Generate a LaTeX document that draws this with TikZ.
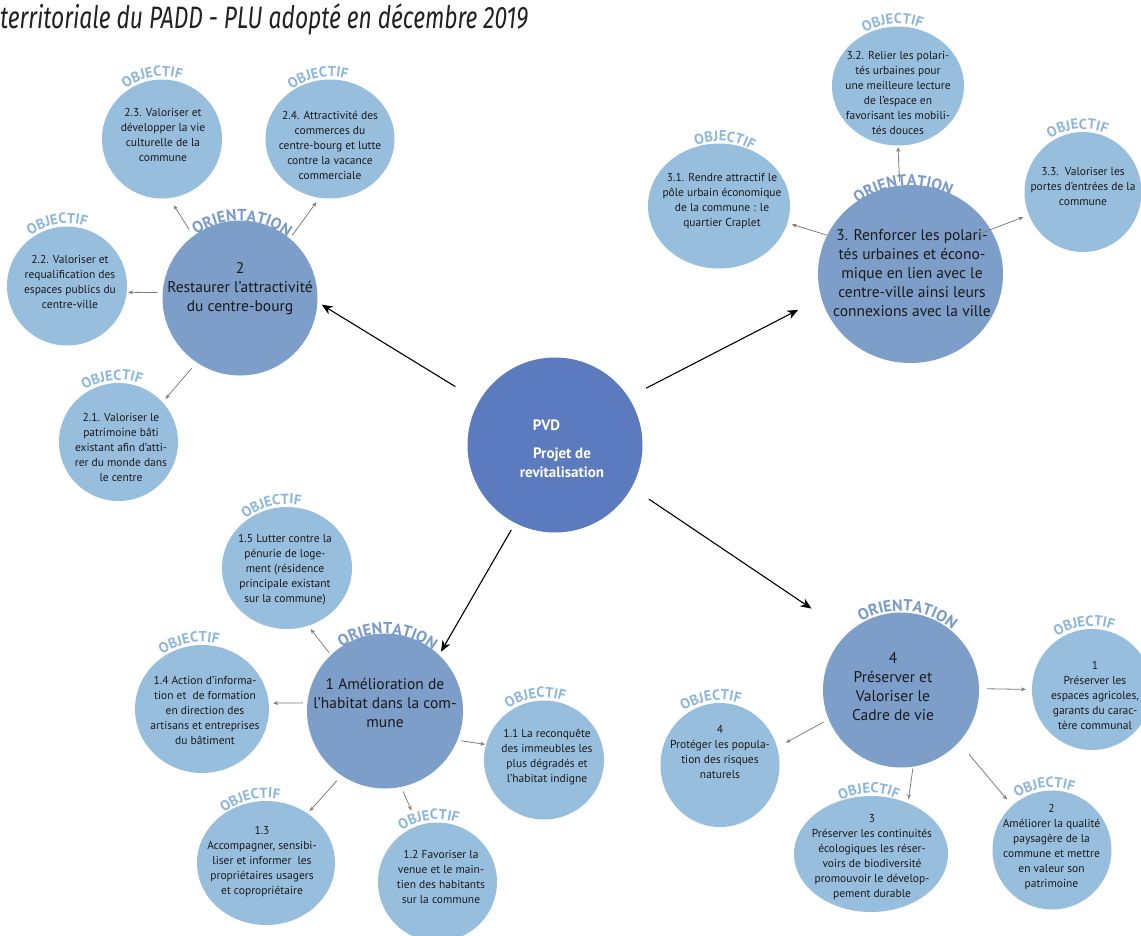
\documentclass[tikz,border=0pt]{standalone}
\usepackage{graphicx}
\usepackage{fontspec}
\setmainfont{PT Sans}
\newfontfamily\titlefont{Fira Sans}
\usetikzlibrary{shapes.geometric,arrows.meta,decorations.text,calc}
\definecolor{objfill}{HTML}{98BEDE}
\definecolor{orifill}{HTML}{7C9EC8}
\definecolor{pvdfill}{HTML}{5C7ABE}
\definecolor{objlab}{HTML}{8DB6DD}
\definecolor{orilab}{HTML}{789BCB}
\definecolor{txtcol}{HTML}{1A1A1A}
\definecolor{arrgray}{HTML}{7F7F7F}
\definecolor{titlecol}{HTML}{222222}
\newcommand\objlabfont{\color{objlab}\bfseries\fontsize{14.5}{14.5}\selectfont}
\newcommand\orilabfont{\color{orilab}\bfseries\fontsize{16}{16}\selectfont}
% #1 node, #2 angle, #3 radius, #4 half span, #5 text
\newcommand\arclabel[5]{%
  \path[decorate,decoration={text along path,text={#5},text align=center}]
    ($(#1.center)+({#2+#4}:#3)$) arc[start angle={#2+#4},end angle={#2-#4},radius=#3];}
\tikzset{
  objc/.style={ellipse,fill=objfill,inner sep=0pt,outer sep=0pt},
  oric/.style={ellipse,fill=orifill,inner sep=0pt,outer sep=0pt},
  pvdc/.style={circle,fill=pvdfill,inner sep=0pt,outer sep=0pt},
  objt/.style={align=center,font=\fontsize{11.5}{15}\selectfont,text=txtcol,inner sep=0pt},
  orit/.style={align=center,font=\fontsize{15.5}{19}\selectfont,text=txtcol,inner sep=0pt},
  pvdt/.style={align=center,font=\bfseries\fontsize{15}{19}\selectfont,text=white,inner sep=0pt},
  subarr/.style={-{Stealth[length=5pt,width=4pt]},draw=arrgray,line width=0.8pt},
  mainarr/.style={-{Stealth[length=11pt,width=9pt]},draw=black,line width=1.1pt},
}
\begin{document}
\begin{tikzpicture}[x=1pt,y=1pt]
\useasboundingbox (0,0) rectangle (1141,-935);
\fill[white] (0,0) rectangle (1141,-935);

\node[anchor=base west,inner sep=0pt,text=titlecol] (title) at (0,-28)
  {\titlefont\itshape\resizebox{528pt}{\height}{\fontsize{31}{31}\selectfont territoriale du PADD - PLU adopté en décembre 2019}};

% central
\node[pvdc,minimum size=175pt] (pvd) at (555,-445) {};
% orientations
\node[oric,minimum width=155pt,minimum height=155pt] (o2) at (240,-298) {};
\node[oric,minimum width=185pt,minimum height=178pt] (o3) at (910.5,-274) {};
\node[oric,minimum width=156pt,minimum height=155pt] (o1) at (385,-711) {};
\node[oric,minimum width=156pt,minimum height=155pt] (o4) at (901,-690) {};
% objectives
\node[objc,minimum width=120pt,minimum height=119pt] (ob23) at (162,-139) {};
\node[objc,minimum width=129pt,minimum height=119pt] (ob24) at (330,-139) {};
\node[objc,minimum width=120pt,minimum height=119pt] (ob22) at (67,-286) {};
\node[objc,minimum width=119pt,minimum height=118pt] (ob21) at (118.5,-442) {};
\node[objc,minimum width=132pt,minimum height=119pt] (ob32) at (898,-86) {};
\node[objc,minimum width=142pt,minimum height=125pt] (ob31) at (719,-206) {};
\node[objc,minimum width=117pt,minimum height=120pt] (ob33) at (1083,-192) {};
\node[objc,minimum width=130pt,minimum height=122pt] (ob15) at (287,-568) {};
\node[objc,minimum width=134pt,minimum height=128pt] (ob14) at (202,-709) {};
\node[objc,minimum width=120pt,minimum height=119pt] (ob11) at (544,-760) {};
\node[objc,minimum width=138pt,minimum height=124pt] (ob13) at (266,-863) {};
\node[objc,minimum width=119pt,minimum height=119pt] (ob12) at (437.5,-882) {};
\node[objc,minimum width=120pt,minimum height=121pt] (ob41) at (1092,-689.5) {};
\node[objc,minimum width=119pt,minimum height=124pt] (ob44) at (720,-765) {};
\node[objc,minimum width=154pt,minimum height=116pt] (ob43) at (871,-854) {};
\node[objc,minimum width=119pt,minimum height=119pt] (ob42) at (1052,-850) {};

% arc labels
\arclabel{ob23}{99}{62.5}{45}{|\objlabfont|OBJECTIF}
\arclabel{ob24}{101}{62.5}{45}{|\objlabfont|OBJECTIF}
\arclabel{ob22}{99}{62.5}{45}{|\objlabfont|OBJECTIF}
\arclabel{ob21}{96}{62}{45}{|\objlabfont|OBJECTIF}
\arclabel{ob32}{95}{62.5}{45}{|\objlabfont|OBJECTIF}
\arclabel{ob31}{85}{65}{45}{|\objlabfont|OBJECTIF}
\arclabel{ob33}{95}{63}{45}{|\objlabfont|OBJECTIF}
\arclabel{ob15}{104}{64}{45}{|\objlabfont|OBJECTIF}
\arclabel{ob14}{101}{67}{45}{|\objlabfont|OBJECTIF}
\arclabel{ob11}{98}{62.5}{45}{|\objlabfont|OBJECTIF}
\arclabel{ob13}{104}{65}{45}{|\objlabfont|OBJECTIF}
\arclabel{ob12}{98}{62.5}{45}{|\objlabfont|OBJECTIF}
\arclabel{ob41}{97}{63.5}{45}{|\objlabfont|OBJECTIF}
\arclabel{ob44}{98}{65}{45}{|\objlabfont|OBJECTIF}
\arclabel{ob43}{92}{61}{45}{|\objlabfont|OBJECTIF}
\arclabel{ob42}{97}{62.5}{45}{|\objlabfont|OBJECTIF}
\arclabel{o2}{88.5}{77}{60}{|\orilabfont|ORIENTATION}
\arclabel{o3}{95}{88}{55}{|\orilabfont|ORIENTATION}
\arclabel{o1}{88}{77}{60}{|\orilabfont|ORIENTATION}
\arclabel{o4}{85}{79}{60}{|\orilabfont|ORIENTATION}

% texts
\node[pvdt] (tpvd) at (562,-448.5) {\hspace*{-31pt}PVD\\[9pt]Projet de\\revitalisation};
\node[orit] (to2) at (240,-289) {2\\Restaurer l’attractivité\\du centre-bourg};
\node[orit] (to3) at (912,-273) {3. Renforcer les polari-\\tés urbaines et écono-\\mique en lien avec le\\centre-ville ainsi leurs\\connexions avec la ville};
\node[orit] (to1) at (385,-703) {1 Amélioration de\\l’habitat dans la com-\\mune};
\node[orit] (to4) at (893,-687) {4\\Préserver et\\Valoriser le\\Cadre de vie};

\node[objt] (t23) at (163,-134.5) {2.3. Valoriser et\\développer la vie\\culturelle de la\\commune};
\node[objt] (t24) at (330,-145) {2.4. Attractivité des\\commerces du\\centre-bourg et lutte\\contre la vacance\\commerciale};
\node[objt] (t22) at (70,-282) {2.2. Valoriser et\\requalification des\\espaces publics du\\centre-ville};
\node[objt] (t21) at (121,-447) {2.1. Valoriser le\\patrimoine bâti\\existant afin d’atti-\\rer du monde dans\\le centre};
\node[objt] (t32) at (898,-93) {3.2. Relier les polari-\\tés urbaines pour\\une meilleure lecture\\de l’espace en\\favorisant les mobili-\\tés douces};
\node[objt] (t31) at (722,-201.5) {3.1. Rendre attractif le\\pôle urbain économique\\de la commune : le\\quartier Craplet};
\node[objt] (t33) at (1083,-186) {3.3.\ \ Valoriser les\\portes d’entrées de la\\commune};
\node[objt] (t15) at (285,-570) {1.5 Lutter contre la\\pénurie de loge-\\ment (résidence\\principale existant\\sur la commune)};
\node[objt] (t14) at (205,-710) {1.4 Action d’informa-\\tion et\ \ de formation\\en direction des\\artisans et entreprises\\du bâtiment};
\node[objt] (t11) at (547,-757) {1.1 La reconquête\\des immeubles les\\plus dégradés et\\l’habitat indigne};
\node[objt] (t13) at (262,-862) {1.3\\Accompagner, sensibi-\\liser et informer\ \ les\\propriétaires usagers\\et copropriétaire};
\node[objt] (t12) at (441,-877) {1.2 Favoriser la\\venue et le main-\\tien des habitants\\sur la commune};
\node[objt] (t41) at (1095,-695.5) {1\\Préserver les\\espaces agricoles,\\garants du carac-\\tère communal};
\node[objt] (t44) at (720,-752) {4\\Protéger les popula-\\tion des risques\\naturels};
\node[objt] (t43) at (872,-857) {3\\Préserver les continuités\\écologiques les réser-\\voirs de biodiversité\\promouvoir le dévelop-\\pement durable};
\node[objt] (t42) at (1051.5,-847) {2\\Améliorer la qualité\\paysagère de la\\commune et mettre\\en valeur son\\patrimoine};

% main arrows
\draw[mainarr,shorten <=28pt,shorten >=5pt] (pvd.150) -- (o2.-3);
\draw[mainarr,shorten <=20pt,shorten >=26pt] (pvd.33) -- (o3.-165);
\draw[mainarr,shorten <=8pt,shorten >=4pt] (pvd.-117) -- (o1.46);
\draw[mainarr,shorten <=21pt,shorten >=44pt] (pvd.-29) -- (o4.133);

% secondary arrows
\draw[subarr,shorten <=8pt,shorten >=8.5pt] (o2.127) -- (ob23.-83);
\draw[subarr,shorten <=4pt,shorten >=5.5pt] (o2.50) -- (ob24.-100);
\draw[subarr,shorten <=5pt,shorten >=1.5pt] (o2.176) -- (ob22.-6);
\draw[subarr,shorten <=7.5pt,shorten >=4.5pt] (o2.-124) -- (ob21.42);
\draw[subarr,shorten <=4pt,shorten >=1.5pt] (o3.97) -- (ob32.-90);
\draw[subarr,shorten <=0pt,shorten >=4.7pt] (o3.155) -- (ob31.-14);
\draw[subarr,shorten <=-14pt,shorten >=6pt] (o3.29) -- (ob33.-157);
\draw[subarr,shorten <=3pt,shorten >=4pt] (o1.134) -- (ob15.-70);
\draw[subarr,shorten <=4.5pt,shorten >=4.3pt] (o1.174) -- (ob14.5);
\draw[subarr,shorten <=3.7pt,shorten >=1pt] (o1.-22) -- (ob11.165);
\draw[subarr,shorten <=7pt,shorten >=3pt] (o1.-124) -- (ob13.50);
\draw[subarr,shorten <=5pt,shorten >=16.5pt] (o1.-78) -- (ob12.109);
\draw[subarr,shorten <=8pt,shorten >=6pt] (o4.1) -- (ob41.180);
\draw[subarr,shorten <=6pt,shorten >=10pt] (o4.-158) -- (ob44.17);
\draw[subarr,shorten <=2pt,shorten >=4pt] (o4.-81) -- (ob43.54);
\draw[subarr,shorten <=16pt,shorten >=8pt] (o4.-42) -- (ob42.132);
\end{tikzpicture}
\end{document}
